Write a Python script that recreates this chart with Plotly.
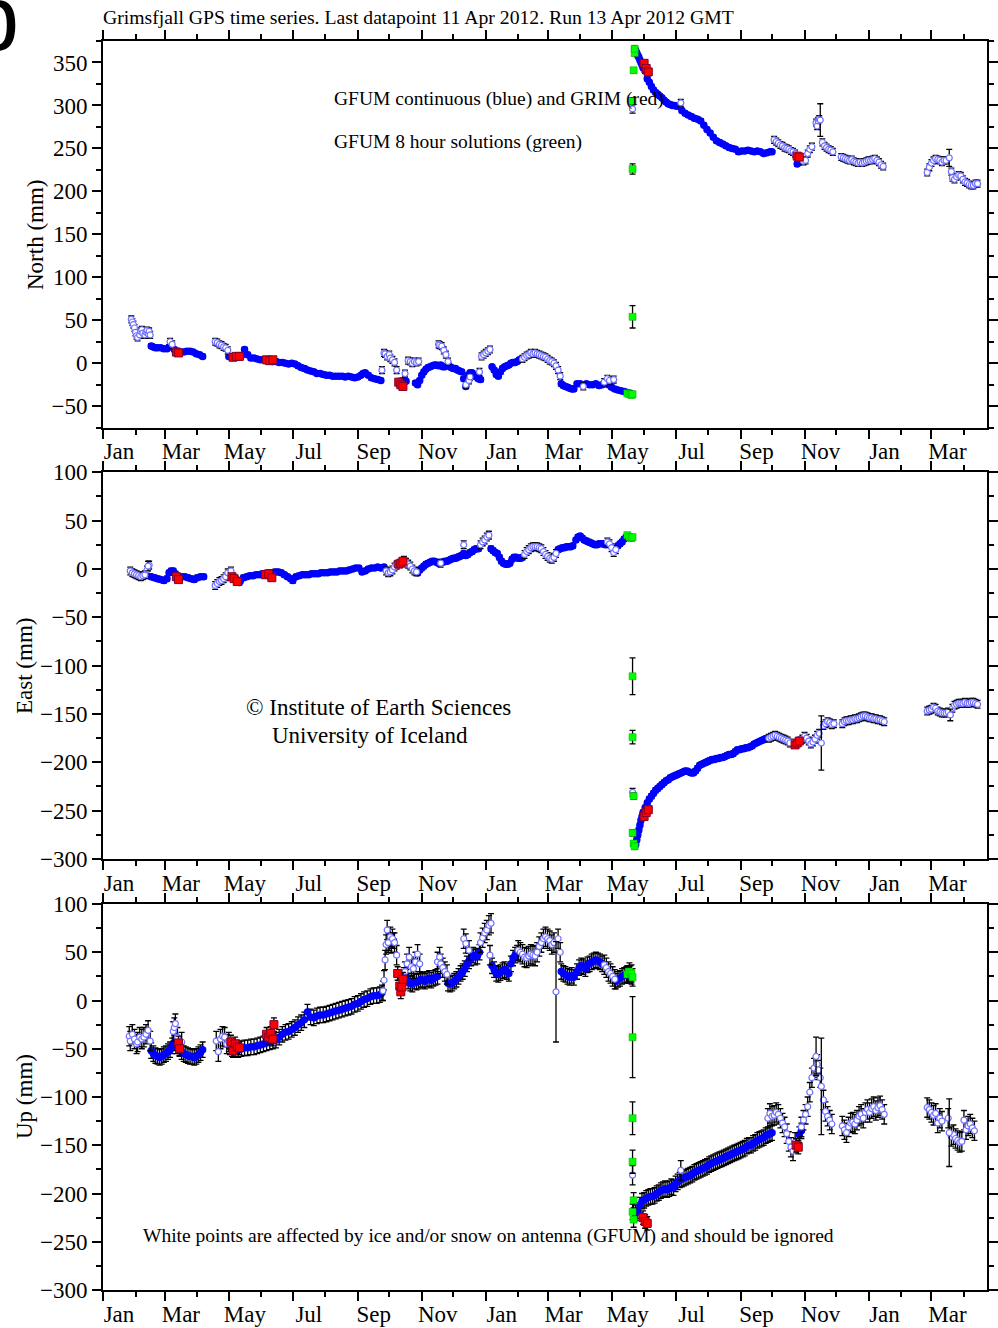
import plotly.graph_objects as go
import pandas as pd

FONT = "Liberation Serif"
BASE = pd.Timestamp("2010-01-01")

# ---------------- DATA: (day since 2010-01-01, mm) ----------------
# North
north_blue = [
(46,20),(48,19),(50,18),(52,18),(55,18),(58,17),(61,17),(63,19),(65,22),(68,16),(71,14),(74,13),(77,13),(80,14),(83,14),(86,13),(89,11),(92,10),(95,8),
(120,8),(123,7),(126,8),(129,8),(132,9),(135,16),(138,10),(141,6),(144,6),(147,5),(150,4),(153,4),(156,3),(159,3),(162,2),(165,2),(168,1),(171,1),(174,0),(177,-1),(180,0),(183,-1),(186,-3),(189,-5),(192,-6),(195,-8),(198,-9),(201,-10),(204,-12),(207,-12),(210,-13),(213,-14),(216,-14),(219,-15),(222,-15),(225,-15),(228,-15),(231,-16),(234,-15),(237,-16),(240,-17),(243,-16),(246,-14),(248,-12),(250,-11),(253,-14),(256,-17),(259,-18),(262,-19),(265,-20),
(283,-21),(286,-20),(289,-21),
(298,-23),(300,-25),(302,-20),(304,-14),(306,-10),(308,-7),(310,-5),(312,-4),(314,-3),(316,-2),(318,-2),(320,-3),(322,-2),(324,-4),(326,-4),
(330,-3),(332,-5),(334,-6),(336,-6),(338,-8),(340,-9),(342,-10),(344,-18),(346,-27),(348,-14),(350,-11),(352,-11),(354,-14),(356,-16),(358,-18),(360,-19),
(371,-4),(373,-8),(375,-13),(377,-15),(379,-10),(381,-6),(383,-4),(385,-3),(387,-2),(389,0),(391,1),(393,1),(395,2),(397,4),(399,5),
(437,-24),(439,-26),(441,-27),(443,-28),(445,-29),(447,-30),(449,-30),
(452,-24),(455,-24),(458,-25),(461,-24),(464,-25),(467,-25),(470,-24),(473,-26),(476,-25),(479,-23),(482,-25),(485,-28),(488,-30),(491,-31),(494,-32),(497,-33),(500,-34),(503,-35),
(507,366),(508,364),(509,361),(510,358),(511,356),(512,353),(513,350),(514,347),(515,344),(517,340),(519,331),(521,327),(523,322),(525,318),(527,315),(529,313),(531,311),(533,309),(535,306),(537,304),(539,302),(541,301),(543,300),(545,300),(547,299),(549,299),(552,294),(555,291),(558,289),(561,287),(564,285),(567,284),(570,282),(573,277),(576,272),(579,268),(582,263),(585,259),(588,257),(591,255),(594,253),(597,251),(600,250),(603,249),(606,246),(609,247),(612,247),(615,248),(618,247),(621,246),(624,247),(627,246),(630,244),(633,245),(636,246),(638,246),
(662,232),(664,234),(666,236)]
north_white = [
(27,51),(28,48),(29,45),(30,41),(31,36),(32,32),(33,30),(35,33),(36,37),(37,39),(38,35),(40,33),(41,36),(42,38),(43,34),(44,37),(45,33),
(64,25),(66,22),
(107,25),(109,24),(111,22),(113,21),(115,19),(117,18),(119,15),
(266,-8),(268,12),(269,11),(271,8),(273,10),(274,6),(276,4),(278,1),(280,-8),(288,-12),(291,3),(293,2),(295,0),(297,2),(299,1),(301,2),
(320,22),(321,21),(323,20),(325,15),(327,10),(329,2),
(346,-25),(349,-20),(350,-16),(359,-10),
(361,8),(363,10),(365,12),(367,14),(369,16),
(400,5),(402,7),(404,9),(406,10),(408,12),(410,11),(412,12),(414,11),(416,10),(418,9),(420,8),(422,7),(424,5),(426,3),(428,2),(430,0),(432,-3),(434,-8),(436,-15),
(458,-27),(478,-22),(481,-18),(483,-20),(487,-19),
(551,303),
(640,260),(642,258),(644,256),(646,254),(648,253),(650,251),(652,250),(654,249),(656,247),(658,246),(660,244),
(668,235),(670,236),(672,244),(674,249),(676,252),
(680,280),(681,276),(682,282),(683,284),(686,257),(688,253),(690,251),(692,249),(694,248),(696,246),
(704,240),(706,239),(708,238),(710,237),(712,236),(714,237),(716,235),(718,234),(720,233),(722,234),(724,233),(726,234),(728,235),(730,236),(732,236),(734,237),(736,238),(738,236),(740,234),(742,231),(744,229),
(786,222),(788,228),(790,233),(792,236),(794,238),(796,237),(798,236),(800,234),(802,236),(804,236),(809,223),(810,216),(812,214),(814,217),(816,219),(818,218),(820,214),(822,211),(824,210),(826,208),(828,207),(830,207),(832,209),(834,209)]
north_white_big = [(505,296,5),(684,283,19),(807,239,10)]
north_red = [(70,13),(72,12),(124,7),(127,8),(130,8),(156,4),(159,3),(162,4),(282,-22),(284,-25),(286,-27),(516,349),(518,343),(520,339),(662,241),(664,240)]
north_green = [(500,-35,2),(502,-36,2),(504,-37,2),(505,-36,2),(505,54,13),(505,226,6),(505,305,4),(506,341,3),(507,361,3),(507,366,3)]

# East
east_blue = [
(46,-8),(49,-9),(52,-10),(55,-11),(58,-12),(61,-10),(63,-4),(65,-2),(67,-2),(69,-5),(72,-8),(75,-8),(78,-8),(81,-9),(84,-10),(87,-11),(90,-9),(93,-8),(96,-8),
(124,-9),(127,-11),(130,-14),(131,-12),(134,-9),(137,-8),(140,-7),(143,-7),(146,-6),(149,-6),(152,-5),(155,-5),(158,-4),(161,-4),(164,-3),(167,-3),(170,-4),(173,-6),(176,-8),(179,-10),(181,-12),(184,-8),(187,-7),(190,-6),(193,-6),(196,-6),(199,-5),(202,-5),(205,-5),(208,-4),(211,-4),(214,-4),(217,-3),(220,-3),(223,-3),(226,-2),(229,-2),(232,-2),(235,-1),(238,0),(241,1),(244,1),(247,-3),(250,-2),(253,0),(256,1),(259,1),(262,2),(265,1),(268,2),
(300,-4),(302,-1),(304,1),(306,3),(308,5),(310,6),(312,7),(314,8),(316,8),(318,7),(320,6),(322,7),(324,7),(326,8),(328,8),(330,9),(332,10),(334,11),(336,11),(338,12),(340,13),(342,14),(344,16),(346,14),(348,15),(350,17),(352,18),(354,20),(356,21),(358,21),
(370,21),(372,19),(374,17),(376,16),(378,12),(380,8),(382,6),(384,5),(386,5),(388,6),(390,10),(392,12),(394,12),(396,11),(398,11),(400,12),
(434,20),(436,21),(438,22),(440,22),(442,23),(444,23),(446,23),(448,24),
(451,30),(453,33),(455,34),(457,32),(459,30),(461,29),(463,28),(465,27),(467,26),(469,25),(471,25),(473,26),(475,26),(477,26),(479,25),
(491,24),(493,26),(495,28),(497,31),(499,33),(501,33),(503,33),(504,32),
(508,-285),(509,-280),(510,-275),(511,-270),(512,-265),(513,-260),(514,-256),(515,-252),(517,-247),(519,-242),(521,-238),(523,-235),(525,-232),(527,-229),(529,-227),(531,-225),(533,-223),(535,-221),(537,-219),(539,-218),(541,-216),(543,-215),(545,-214),(547,-213),(549,-212),(551,-211),(553,-210),(555,-209),(557,-209),(559,-210),(561,-211),(563,-211),(565,-209),(567,-206),(569,-203),(571,-202),(573,-201),(575,-200),(577,-199),(579,-198),(581,-197),(583,-197),(585,-196),(587,-196),(589,-195),(591,-195),(593,-194),(595,-193),(597,-192),(599,-192),(601,-191),(603,-189),(605,-187),(607,-187),(609,-186),(611,-186),(613,-185),(615,-185),(617,-184),(619,-183),(621,-181),(623,-180),(625,-179),(627,-178),(629,-177),(631,-176),(633,-175),
(662,-179),(664,-177)]
east_white = [
(26,-2),(28,-4),(30,-5),(32,-6),(34,-7),(36,-8),(38,-7),(40,-6),(42,-1),(44,4),
(107,-17),(109,-15),(111,-13),(113,-12),(115,-10),(117,-8),(119,-4),(122,-2),
(270,-2),(272,-4),(274,-3),(276,-1),(278,2),(280,4),
(287,9),(289,7),(291,5),(293,3),(295,0),(297,-2),(299,-3),
(322,6),(344,25),(360,25),(362,28),(364,30),(366,33),(368,35),
(402,15),(404,18),(406,20),(408,22),(410,23),(412,23),(414,23),(416,22),(418,21),(420,18),(422,15),(424,13),(426,11),(428,10),(430,12),(432,16),
(481,28),(483,26),(485,22),(487,17),(489,20),
(505,-231),
(635,-175),(637,-174),(639,-173),(641,-172),(643,-173),(645,-174),(647,-175),(649,-176),(651,-177),(653,-178),(655,-180),
(667,-176),(669,-173),(671,-175),(673,-178),(675,-181),(677,-179),(679,-176),(681,-172),(683,-170),
(687,-162),(689,-160),(691,-158),(693,-159),(695,-161),(697,-160),
(705,-160),(707,-158),(709,-157),(711,-157),(713,-156),(715,-156),(717,-155),(719,-155),(721,-154),(723,-153),(725,-152),(727,-152),(729,-153),(731,-154),(733,-154),(735,-155),(737,-155),(739,-156),(741,-156),(743,-157),(745,-158),
(786,-147),(788,-146),(790,-145),(792,-143),(794,-144),(796,-147),(798,-148),(800,-149),(802,-149),(804,-149),(806,-148),(810,-144),(812,-141),(814,-140),(816,-139),(818,-139),(820,-139),(822,-138),(824,-139),(826,-139),(828,-138),(830,-138),(832,-139),(834,-140)]
east_white_big = [(43,3,5),(685,-180,28),(808,-151,6)]
east_red = [(70,-8),(72,-11),(123,-8),(125,-10),(128,-13),(155,-6),(158,-5),(161,-9),(282,5),(284,6),(286,8),(516,-256),(518,-252),(520,-249),(660,-182),(662,-180),(664,-178)]
east_green = [(500,35,2),(502,33,2),(504,32,2),(505,33,2),(505,-111,19),(505,-174,7),(506,-235,3),(505,-273,3),(506,-284,3),(507,-287,3)]

# Up
up_blue = [
(46,-52),(48,-55),(50,-57),(52,-58),(54,-59),(56,-58),(58,-56),(60,-55),(62,-53),(64,-51),(66,-47),(68,-44),(70,-47),(73,-50),(75,-53),(77,-55),(79,-56),(81,-57),(83,-58),(85,-58),(87,-59),(89,-58),(91,-56),(93,-54),(95,-51),
(121,-48),(123,-50),(126,-50),(129,-51),(132,-50),(135,-49),(138,-49),(141,-48),(144,-48),(147,-47),(150,-46),(153,-45),(156,-44),(159,-43),(162,-42),(165,-41),(168,-38),(171,-35),(174,-33),(177,-32),(180,-30),(183,-28),(186,-25),(189,-23),(192,-20),(195,-12),(198,-17),(201,-18),(204,-16),(207,-15),(210,-15),(213,-14),(216,-13),(219,-12),(222,-11),(225,-10),(228,-9),(231,-8),(234,-7),(237,-6),(240,-4),(243,-3),(246,-1),(249,1),(252,2),(255,4),(258,5),(261,5),(264,6),(266,8),
(273,60),(275,57),(277,62),
(287,26),(289,24),(291,20),(293,18),(295,17),(297,20),(299,19),(301,20),(303,22),(305,21),(307,20),(309,22),(311,23),(313,21),(315,23),(317,24),(319,25),
(329,18),(331,17),(333,18),(335,20),(337,22),(339,25),(341,28),(343,30),(345,33),(347,38),(349,41),(351,44),(353,47),(355,45),(357,46),(359,50),
(371,36),(373,32),(375,28),(377,27),(379,29),(381,31),(383,32),(385,30),(387,28),(389,38),(391,44),(393,47),(395,49),
(437,30),(439,28),(441,27),(443,25),(445,24),(447,26),(449,24),
(452,30),(454,34),(456,36),(458,35),(460,33),(462,37),(464,38),(466,40),(468,41),(470,42),(472,41),(474,40),(476,38),
(489,20),(491,22),(493,23),(495,25),(497,26),(499,27),(501,26),(503,28),(504,25),
(508,-220),(510,-218),(512,-212),(514,-208),(516,-207),(518,-205),(520,-204),(522,-203),(524,-203),(526,-202),(528,-200),(530,-199),(532,-197),(534,-196),(536,-195),(538,-196),(540,-195),(542,-193),(544,-194),(546,-190),(548,-188),(550,-186),(552,-185),(554,-184),(556,-183),(558,-182),(560,-181),(562,-180),(564,-178),(566,-177),(568,-176),(570,-175),(572,-174),(574,-173),(576,-172),(578,-170),(580,-169),(582,-168),(584,-167),(586,-166),(588,-165),(590,-164),(592,-163),(594,-162),(596,-161),(598,-160),(600,-159),(602,-158),(604,-157),(606,-156),(608,-155),(610,-154),(612,-153),(614,-151),(616,-150),(618,-150),(620,-148),(622,-147),(624,-145),(626,-144),(628,-143),(630,-142),(632,-140),(634,-139),(636,-138),(638,-137),
(664,-139),(666,-135)]
up_white = [
(25,-37),(26,-42),(28,-35),(30,-40),(32,-45),(33,-43),(35,-38),(37,-40),(39,-38),(41,-35),(43,-31),(45,-42),
(67,-32),(68,-28),(69,-24),(71,-38),(75,-43),
(108,-42),(110,-53),(112,-40),(114,-37),(116,-38),(118,-45),(120,-43),
(267,10),(268,21),(269,42),(270,58),(271,73),(272,60),(274,66),(276,64),(278,60),(280,47),
(288,30),(290,38),(292,45),(294,35),(296,33),(298,40),(300,48),(302,38),
(319,40),(321,45),(322,38),(324,34),(326,30),(328,27),
(344,64),(346,59),(349,52),
(360,60),(362,65),(364,70),(366,73),(368,78),(370,80),(369,47),
(396,52),(398,50),(400,48),(402,45),(404,44),(406,46),(408,48),(410,47),(412,46),(414,50),(416,56),(418,60),(420,64),(422,66),(424,64),(426,62),(428,58),(430,60),(434,64),(436,50),
(478,37),(480,34),(482,30),(484,28),(486,25),(488,22),
(505,-181),(551,-176),
(634,-122),(636,-117),(638,-120),(640,-119),(642,-116),(644,-118),(646,-122),(648,-127),(650,-131),(652,-138),(654,-146),(656,-152),(658,-156),(660,-147),
(666,-131),(668,-124),(670,-118),(672,-110),(674,-95),(676,-80),(678,-70),(681,-66),(682,-72),(684,-80),(687,-103),(689,-115),(691,-120),(693,-124),(695,-128),
(705,-130),(707,-134),(709,-137),(711,-131),(713,-127),(715,-126),(717,-128),(719,-124),(721,-120),(723,-118),(725,-122),(727,-116),(729,-113),(731,-116),(733,-112),(735,-110),(737,-114),(739,-111),(741,-109),(743,-113),(745,-118),
(786,-111),(788,-113),(790,-116),(792,-119),(794,-117),(796,-127),(798,-122),(800,-125),(806,-122),(809,-141),(811,-139),(813,-143),(815,-145),(817,-147),(819,-146),(821,-124),(823,-134),(825,-130),(827,-128),(829,-132),(831,-135)]
up_white_big = [(432,9,52),(680,-58,20),(685,-89,50),(807,-137,35)]
up_red = [(72,-44),(73,-50),(122,-43),(124,-52),(126,-45),(128,-48),(130,-49),(156,-35),(158,-38),(160,-34),(162,-40),(163,-25),(281,28),(283,15),(284,9),(285,14),(286,22),(515,-225),(517,-229),(519,-231),(661,-150),(663,-152)]
up_green = [(500,27,9),(502,30,9),(504,28,9),(505,24,9),(505,-38,42),(505,-122,17),(505,-167,12),(506,-207,8),(505,-219,8),(506,-227,8)]

# typical 1-sigma error (mm) per component / solution type
ERR = {"north": {"blue": 2.5, "white": 4, "red": 3},
       "east": {"blue": 2.5, "white": 4, "red": 3},
       "up": {"blue": 8, "white": 10, "red": 7}}

# ---------------- FIGURE ----------------
W, H = 998, 1328
ML, MR, MT, MB = 103, 11, 41, 38
PW, PH = W - ML - MR, H - MT - MB


def px_x(x):
    return (x - ML) / PW


def px_y(y):
    return (H - MB - y) / PH


STY = {
    "blue": dict(symbol="circle", size=7.5, color="#0000ff", line=dict(width=0)),
    "white": dict(symbol="circle", size=6, color="white", line=dict(width=1.2, color="#7070ff")),
    "red": dict(symbol="square", size=8, color="#ff0000", line=dict(width=1, color="#80002a")),
    "green": dict(symbol="square", size=7, color="#00ff00", line=dict(width=0.5, color="#00a000")),
}


def dts(days):
    return [BASE + pd.Timedelta(days=d) for d in days]


fig = go.Figure()


def add(pairs, kind, xa, ya, err=None, errs=None):
    days = [p[0] for p in pairs]
    vals = [p[1] for p in pairs]
    if errs is None:
        ey = dict(type="constant", value=err)
    else:
        ey = dict(type="data", array=errs)
    ey.update(color="black", thickness=1.3, width=3)
    fig.add_trace(go.Scatter(x=dts(days), y=vals, mode="markers", marker=STY[kind],
                             error_y=ey, xaxis=xa, yaxis=ya, showlegend=False,
                             hoverinfo="skip"))


panels = [
    ("north", "x", "y", north_blue, north_white, north_white_big, north_red, north_green),
    ("east", "x2", "y2", east_blue, east_white, east_white_big, east_red, east_green),
    ("up", "x3", "y3", up_blue, up_white, up_white_big, up_red, up_green),
]
for comp, xa, ya, blue, white, wbig, red, green in panels:
    add(blue, "blue", xa, ya, err=ERR[comp]["blue"])
    add(white, "white", xa, ya, err=ERR[comp]["white"])
    add([(d, v) for d, v, e in wbig], "white", xa, ya, errs=[e for d, v, e in wbig])
    add(red, "red", xa, ya, err=ERR[comp]["red"])
    add([(d, v) for d, v, e in green], "green", xa, ya, errs=[e for d, v, e in green])

tickfont = dict(family=FONT, size=23, color="black")
xcommon = dict(type="date", range=["2010-01-01", "2012-04-23"], tickmode="linear",
               tick0="2010-01-01", dtick="M2", tickformat="%b", ticks="outside",
               ticklen=9, tickwidth=1.5, tickcolor="black", showline=True,
               linecolor="black", linewidth=2, mirror="allticks", showgrid=False,
               zeroline=False, tickfont=tickfont, ticklabelshift=16,
               ticklabelstandoff=-7, automargin=False,
               minor=dict(dtick="M1", tick0="2010-01-01", ticks="outside", ticklen=5,
                          tickwidth=1.5, tickcolor="black", showgrid=False))
ycommon = dict(tickmode="linear", dtick=50, ticks="outside", ticklen=9, tickwidth=1.5,
               tickcolor="black", showline=True, linecolor="black", linewidth=2,
               mirror="allticks", showgrid=False, zeroline=False, tickfont=tickfont,
               ticklabelstandoff=0, automargin=False,
               minor=dict(dtick=25, ticks="outside", ticklen=5, tickwidth=1.5,
                          tickcolor="black", showgrid=False))

dom_top = [px_y(427.7), 1.0]
dom_mid = [px_y(859), px_y(472.3)]
dom_bot = [0.0, px_y(904)]

fig.update_layout(
    template="none",
    width=W, height=H, margin=dict(l=ML, r=MR, t=MT, b=MB, autoexpand=False),
    paper_bgcolor="white", plot_bgcolor="white",
    xaxis=dict(xcommon, anchor="y", domain=[0, 1]),
    xaxis2=dict(xcommon, anchor="y2", domain=[0, 1]),
    xaxis3=dict(xcommon, anchor="y3", domain=[0, 1]),
    yaxis=dict(ycommon, anchor="x", domain=dom_top, range=[-75, 375], tick0=0),
    yaxis2=dict(ycommon, anchor="x2", domain=dom_mid, range=[-300, 100], tick0=0),
    yaxis3=dict(ycommon, anchor="x3", domain=dom_bot, range=[-300, 100], tick0=0),
    font=dict(family=FONT, color="black"),
)


def note(text, x, y, size, xanchor="left", angle=0, family=FONT):
    fig.add_annotation(text=text, xref="paper", yref="paper", x=px_x(x), y=px_y(y),
                       xanchor=xanchor, yanchor="middle", showarrow=False,
                       textangle=angle, borderpad=0,
                       font=dict(family=family, size=size, color="black"))


note("Grimsfjall GPS time series. Last datapoint 11 Apr 2012. Run 13 Apr 2012 GMT", 102, 17.4, 19.7)
note("GFUM continuous (blue) and GRIM (red)", 333, 99.4, 19.5)
note("GFUM 8 hour solutions (green)", 333, 142.4, 19.5)
note("© Institute of Earth Sciences", 245, 707.2, 23)
note("University of Iceland", 271, 735.5, 23)
note("White points are affected by ice and/or snow on antenna (GFUM) and should be ignored", 142, 1236, 19.5)
note("North (mm)", 35, 235, 23, xanchor="center", angle=-90)
note("East (mm)", 24, 666, 23, xanchor="center", angle=-90)
note("Up (mm)", 24, 1097, 23, xanchor="center", angle=-90)
note("b", -33, 18, 92, family="Liberation Sans")

fig.write_html("out.html", config={"displayModeBar": False},
               post_script="document.body.style.margin='0';document.body.style.overflow='hidden';")
